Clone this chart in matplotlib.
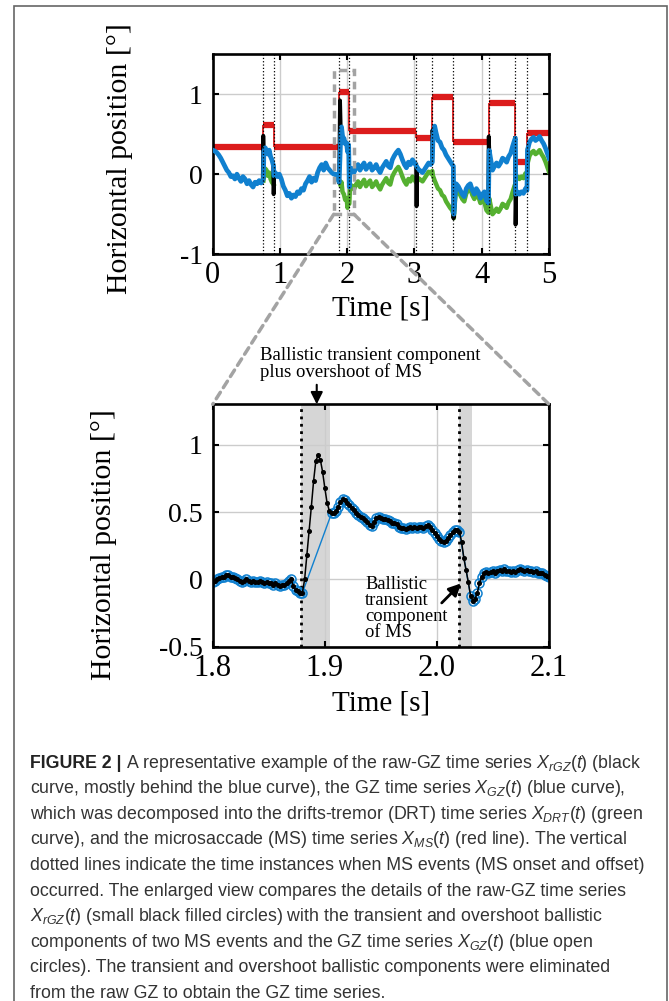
import numpy as np
import matplotlib.pyplot as plt
from matplotlib.patches import Rectangle, ConnectionPatch

nan = np.nan

# ---- overview, 0-5 s ----
gz_t = [0.00, 0.03, 0.06, 0.09, 0.12, 0.15, 0.18, 0.21, 0.24, 0.27, 0.30, 0.33, 0.36, 0.39,
        0.42, 0.45, 0.48, 0.51, 0.54, 0.57, 0.60, 0.63, 0.66, 0.69, 0.72, 0.745, 0.755,
        0.760, 0.78, 0.80, 0.82, 0.84, 0.86, 0.88, 0.90, 0.905, 0.910, 0.93, 0.96, 0.99,
        1.02, 1.05, 1.08, 1.11, 1.14, 1.17, 1.20, 1.23, 1.26, 1.29, 1.32, 1.35, 1.38, 1.41,
        1.44, 1.47, 1.50, 1.53, 1.56, 1.59, 1.62, 1.65, 1.68, 1.71, 1.74, 1.77, 1.80, 1.83,
        1.86, 1.879, 1.905, 1.915, 1.93, 1.94, 1.95, 1.97, 1.99, 2.005, 2.018, 2.022, 2.031,
        2.04, 2.06, 2.08, 2.10, 2.13, 2.16, 2.19, 2.22, 2.25, 2.28, 2.31, 2.34, 2.37, 2.40,
        2.43, 2.46, 2.49, 2.52, 2.55, 2.58, 2.61, 2.64, 2.67, 2.70, 2.73, 2.76, 2.79, 2.82,
        2.85, 2.88, 2.91, 2.94, 2.97, 3.00, 3.03, 3.06, 3.09, 3.12, 3.15, 3.18, 3.21, 3.24,
        3.265, 3.275, 3.30, 3.32, 3.35, 3.38, 3.41, 3.44, 3.47, 3.50, 3.53, 3.56, 3.578,
        3.585, 3.60, 3.62, 3.65, 3.68, 3.71, 3.74, 3.77, 3.80, 3.83, 3.86, 3.89, 3.92, 3.95,
        3.98, 4.01, 4.04, 4.07, 4.10, 4.11, 4.13, 4.16, 4.19, 4.22, 4.25, 4.28, 4.31, 4.34,
        4.37, 4.40, 4.43, 4.46, 4.49, 4.50, 4.505, 4.53, 4.56, 4.59, 4.62, 4.65, 4.673,
        4.68, 4.71, 4.74, 4.77, 4.80, 4.83, 4.86, 4.89, 4.92, 4.95, 4.98, 5.00]
gz_x = [0.30, 0.29, 0.27, 0.24, 0.20, 0.15, 0.10, 0.05, 0.02, -0.03, -0.02, -0.06, 0.00, -0.05,
        -0.09, -0.03, -0.06, -0.12, -0.08, -0.13, -0.16, -0.10, -0.12, -0.08, -0.11, -0.07, -0.05,
        0.28, 0.33, 0.30, 0.25, 0.30, 0.22, 0.18, 0.12, 0.10, -0.02, 0.02, -0.03, 0.00,
        -0.06, -0.15, -0.20, -0.27, -0.24, -0.30, -0.26, -0.28, -0.22, -0.24, -0.18, -0.20, -0.12, -0.08,
        -0.03, -0.10, -0.05, -0.08, 0.02, 0.08, 0.12, 0.05, 0.14, 0.08, 0.05, 0.02, 0.00, 0.00,
        -0.03, -0.10, 0.50, 0.59, 0.47, 0.40, 0.45, 0.38, 0.39, 0.28, 0.37, 0.34, -0.16,
        0.02, 0.07, 0.07, 0.02, 0.08, 0.12, 0.05, 0.10, 0.14, 0.06, 0.10, 0.13, 0.05, 0.08,
        0.12, 0.06, 0.02, 0.08, 0.12, 0.16, 0.10, 0.08, 0.18, 0.23, 0.27, 0.30, 0.25, 0.18,
        0.12, 0.08, 0.15, 0.12, 0.18, 0.14, 0.10, 0.06, 0.04, 0.02, 0.06, 0.10, 0.14, 0.12,
        0.15, 0.45, 0.60, 0.52, 0.42, 0.40, 0.33, 0.30, 0.24, 0.20, 0.16, 0.12, 0.10,
        -0.50, -0.30, -0.12, -0.15, -0.20, -0.25, -0.28, -0.18, -0.14, -0.12, -0.20, -0.25, -0.18, -0.22,
        -0.30, -0.25, -0.22, -0.33, -0.36, 0.30, 0.20, 0.05, 0.10, 0.14, 0.10, 0.14, 0.20, 0.18,
        0.15, 0.22, 0.26, 0.35, 0.43, 0.45, -0.25, -0.22, -0.25, -0.22, -0.24, -0.18, -0.20,
        0.30, 0.40, 0.44, 0.46, 0.42, 0.44, 0.47, 0.42, 0.38, 0.32, 0.25, 0.20]

# drift-tremor only drawn where it departs from the GZ curve
drt_t = [0.755, 0.77, 0.78, 0.80, 0.82, 0.84, 0.86, 0.88, 0.905, nan,
         1.86, 1.879, 1.89, 1.905, 1.915, 1.93, 1.95, 1.97, 1.99, 2.005, 2.018, 2.022, 2.031,
         2.04, 2.06, 2.08, 2.10, 2.13, 2.16, 2.19, 2.22, 2.25, 2.28, 2.31, 2.34, 2.37, 2.40,
         2.43, 2.46, 2.49, 2.52, 2.55, 2.58, 2.61, 2.64, 2.67, 2.70, 2.73, 2.76, 2.79, 2.82,
         2.85, 2.88, 2.91, 2.94, 2.97, 3.00, 3.03, 3.06, 3.09, 3.12, 3.15, 3.18, 3.21, 3.24,
         3.265, 3.275, 3.30, 3.32, 3.35, 3.38, 3.41, 3.44, 3.47, 3.50, 3.53, 3.56, 3.578,
         3.585, 3.60, 3.62, 3.65, 3.68, 3.71, 3.74, 3.77, 3.80, 3.83, 3.86, 3.89, 3.92, 3.95,
         3.98, 4.01, 4.04, 4.07, 4.10, 4.11, 4.13, 4.16, 4.19, 4.22, 4.25, 4.28, 4.31, 4.34,
         4.37, 4.40, 4.43, 4.46, 4.49, 4.50, 4.505, 4.53, 4.56, 4.59, 4.62, 4.65, 4.673,
         4.68, 4.71, 4.74, 4.77, 4.80, 4.83, 4.86, 4.89, 4.92, 4.95, 4.98, 5.00]
drt_x = [-0.08, 0.02, 0.07, 0.05, -0.02, 0.02, -0.06, -0.10, -0.13, nan,
         -0.03, -0.10, -0.08, -0.15, -0.10, -0.22, -0.25, -0.32, -0.30, -0.42, -0.33, -0.36, -0.37,
         -0.19, -0.14, -0.15, -0.19, -0.13, -0.09, -0.16, -0.11, -0.07, -0.15, -0.11, -0.08, -0.16, -0.13,
         -0.09, -0.15, -0.19, -0.13, -0.09, -0.05, -0.11, -0.13, -0.03, 0.02, 0.06, 0.09, 0.04, -0.03,
         -0.09, -0.13, -0.06, -0.09, -0.03, -0.07, -0.11, -0.05, -0.07, -0.09, -0.05, -0.01, 0.03, 0.01,
         0.04, -0.02, -0.08, -0.12, -0.18, -0.20, -0.26, -0.28, -0.34, -0.38, -0.42, -0.45, -0.50,
         -0.55, -0.36, -0.18, -0.21, -0.26, -0.31, -0.34, -0.24, -0.20, -0.18, -0.26, -0.31, -0.24, -0.28,
         -0.36, -0.31, -0.35, -0.45, -0.48, -0.30, -0.38, -0.50, -0.47, -0.43, -0.47, -0.43, -0.37, -0.39,
         -0.42, -0.35, -0.31, -0.22, -0.14, -0.12, -0.06, -0.03, -0.06, -0.03, -0.05, 0.01, -0.01,
         0.13, 0.23, 0.27, 0.29, 0.25, 0.27, 0.30, 0.25, 0.21, 0.15, 0.08, 0.03]

# raw GZ, only the ballistic spikes (rest lies under the GZ curve)
raw_t = [0.745, 0.752, 0.756, 0.762, nan, 0.900, 0.906, 0.913, nan,
         1.879, 1.886, 1.893, 1.900, 1.905, nan, 3.025, 3.031, 3.038, nan,
         3.262, 3.268, 3.276, nan, 3.574, 3.580, 3.590, 3.600, nan,
         4.098, 4.104, 4.112, nan, 4.496, 4.503, 4.512, nan, 4.668, 4.676, 4.684]
raw_x = [-0.07, 0.48, 0.35, 0.28, nan, 0.10, -0.25, -0.02, nan,
         -0.10, 0.36, 0.92, 0.68, 0.50, nan, 0.12, -0.40, 0.06, nan,
         0.15, 0.55, 0.45, nan, 0.10, -0.55, -0.45, -0.30, nan,
         -0.36, 0.47, 0.30, nan, 0.45, -0.63, -0.25, nan, -0.20, -0.05, 0.30]

# microsaccade step series
ms_edges = [0.0, 0.755, 0.905, 1.879, 2.020, 3.03, 3.265, 3.578, 4.103, 4.50, 4.673, 5.0]
ms_levels = [0.34, 0.61, 0.34, 1.025, 0.545, 0.45, 0.96, 0.40, 0.89, 0.15, 0.51]

# ---- enlarged view, 1.8-2.1 s sampled at 500 Hz ----
zoom_t0 = 1.8
zoom_dt = 0.002
raw_zoom = [-0.02, -0.01, 0.00, 0.01, 0.02, 0.02, 0.03, 0.03, 0.02, 0.02,
            0.01, 0.00, -0.01, -0.02, -0.01, 0.00, -0.01, -0.02, -0.01, -0.02,
            -0.02, -0.01, -0.02, -0.03, -0.02, -0.03, -0.03, -0.04, -0.03, -0.04,
            -0.05, -0.04, -0.04, -0.03, -0.01, 0.00, -0.05, -0.08, -0.09, -0.10,
            -0.10, 0.00, 0.18, 0.36, 0.54, 0.73, 0.88, 0.92, 0.89, 0.80,
            0.68, 0.57, 0.51, 0.49, 0.49, 0.51, 0.54, 0.575, 0.595, 0.59,
            0.57, 0.555, 0.53, 0.515, 0.495, 0.475, 0.465, 0.455, 0.44, 0.425,
            0.405, 0.395, 0.425, 0.455, 0.465, 0.455, 0.45, 0.45, 0.44, 0.43,
            0.42, 0.415, 0.41, 0.39, 0.38, 0.38, 0.375, 0.385, 0.39, 0.385,
            0.39, 0.385, 0.39, 0.39, 0.385, 0.395, 0.405, 0.39, 0.365, 0.345,
            0.32, 0.30, 0.285, 0.275, 0.285, 0.31, 0.33, 0.35, 0.365, 0.37,
            0.355, 0.28, 0.16, 0.07, -0.02, -0.12, -0.16, -0.145, -0.10, -0.03,
            0.02, 0.045, 0.055, 0.05, 0.055, 0.06, 0.05, 0.06, 0.07, 0.065,
            0.075, 0.06, 0.065, 0.055, 0.06, 0.055, 0.07, 0.08, 0.07, 0.06,
            0.07, 0.065, 0.06, 0.055, 0.06, 0.05, 0.05, 0.045, 0.035, 0.025,
            0.015]
transients = [(1.881, 1.905), (2.021, 2.029)]
shaded = [(1.879, 1.905), (2.020, 2.031)]
zoom_xlim = (1.8, 2.1)
zoom_ylim = (-0.5, 1.3)

caption = [
    "A representative example of the raw-GZ time series $X_{rGZ}(t)$ (black",
    "curve, mostly behind the blue curve), the GZ time series $X_{GZ}(t)$ (blue curve),",
    "which was decomposed into the drifts-tremor (DRT) time series $X_{DRT}(t)$ (green",
    "curve), and the microsaccade (MS) time series $X_{MS}(t)$ (red line). The vertical",
    "dotted lines indicate the time instances when MS events (MS onset and offset)",
    "occurred. The enlarged view compares the details of the raw-GZ time series",
    "$X_{rGZ}(t)$ (small black filled circles) with the transient and overshoot ballistic",
    "components of two MS events and the GZ time series $X_{GZ}(t)$ (blue open",
    "circles). The transient and overshoot ballistic components were eliminated",
    "from the raw GZ to obtain the GZ time series.",
]

plt.rcParams['font.family'] = ['Liberation Serif', 'DejaVu Serif']
plt.rcParams['axes.unicode_minus'] = False
plt.rcParams['mathtext.fontset'] = 'custom'
plt.rcParams['mathtext.rm'] = 'Liberation Sans'
plt.rcParams['mathtext.it'] = 'Liberation Sans:italic'

BLUE = '#1080cf'
GREEN = '#55b030'
RED = '#dc1c1c'
GRAYBOX = '#a3a3a3'

W, H = 669, 1001
fig = plt.figure(figsize=(W / 100, H / 100), dpi=100)


def box(l, t, r, b):
    return [l / W, 1 - b / H, (r - l) / W, (b - t) / H]


ax1 = fig.add_axes(box(212.7, 54, 549, 254.3))
ax2 = fig.add_axes(box(212.7, 404.3, 549, 646.7))

for ax in (ax1, ax2):
    ax.set_axisbelow(True)
    ax.grid(True, color='#cccccc', lw=1)
    for s in ax.spines.values():
        s.set_linewidth(1.9)
    ax.tick_params(direction='in', top=True, right=True, length=4, width=1.5)
    ax.tick_params(axis='x', labelsize=22, pad=5)
    ax.tick_params(axis='y', labelsize=20, pad=7)

# overview
ax1.hlines(ms_levels, ms_edges[:-1], ms_edges[1:], color=RED, lw=4.5, zorder=1)
ax1.vlines(ms_edges[1:-1], ms_levels[:-1], ms_levels[1:], color=RED, lw=1.3, zorder=1)
ax1.plot(drt_t, drt_x, color=GREEN, lw=3.2, zorder=2)
ax1.plot(raw_t, raw_x, color='black', lw=2.8, zorder=3)
ax1.plot(gz_t, gz_x, color=BLUE, lw=3.4, zorder=4)
for e in ms_edges[1:-1]:
    ax1.axvline(e, color='black', ls=':', lw=0.9, zorder=5)
ax1.add_patch(Rectangle((zoom_xlim[0], zoom_ylim[0]), zoom_xlim[1] - zoom_xlim[0],
                        zoom_ylim[1] - zoom_ylim[0], fill=False, ec=GRAYBOX, lw=2.5,
                        ls=(0, (2.2, 1.6)), zorder=6))
ax1.set_xlim(0, 5)
ax1.set_ylim(-1, 1.5)
ax1.set_xticks([0, 1, 2, 3, 4, 5])
ax1.set_yticks([-1, 0, 1])
ax1.set_xlabel('Time [s]', fontsize=21)
ax1.set_ylabel('Horizontal position [°]', fontsize=21.5)
ax1.xaxis.set_label_coords(0.5, -0.205)
ax1.yaxis.set_label_coords(-0.237, 0.48)

# enlarged view
zt = np.round(zoom_t0 + zoom_dt * np.arange(len(raw_zoom)), 3)
zr = np.array(raw_zoom)
keep = np.ones(len(zt), bool)
for a, b in transients:
    keep &= ~((zt >= a) & (zt <= b))
for a, b in shaded:
    ax2.axvspan(a, b, color='#d6d6d6', lw=0, zorder=0.5)
    ax2.axvline(a, color='black', ls=':', lw=2, zorder=1)
ax2.plot(zt[keep], zr[keep], color=BLUE, lw=1, marker='o', ms=6.5, mfc='none',
         mec=BLUE, mew=1.1, zorder=2)
ax2.plot(zt, zr, color='black', lw=1.1, marker='o', ms=2.6, zorder=3)
ax2.set_xlim(*zoom_xlim)
ax2.set_ylim(*zoom_ylim)
ax2.set_xticks([1.8, 1.9, 2.0, 2.1])
ax2.set_xticklabels(['1.8', '1.9', '2.0', '2.1'])
ax2.set_yticks([-0.5, 0, 0.5, 1])
ax2.set_yticklabels(['-0.5', '0', '0.5', '1'])
ax2.set_xlabel('Time [s]', fontsize=21)
ax2.set_ylabel('Horizontal position [°]', fontsize=21.5)
ax2.xaxis.set_label_coords(0.5, -0.18)
ax2.yaxis.set_label_coords(-0.2855, 0.42)

ax2.text(1.842, 1.60, 'Ballistic transient component\nplus overshoot of MS', fontsize=13.5,
         ha='left', va='center', linespacing=0.95, clip_on=False)
ax2.annotate('', xy=(1.8928, 1.3), xytext=(1.8928, 1.445), annotation_clip=False,
             arrowprops=dict(arrowstyle='-|>', color='black', lw=1.5, mutation_scale=18,
                             shrinkA=0, shrinkB=0))
ax2.text(1.936, -0.215, 'Ballistic\ntransient\ncomponent\nof MS', fontsize=13.3,
         ha='left', va='center', linespacing=0.93)
ax2.annotate('', xy=(2.0215, -0.03), xytext=(2.0043, -0.175),
             arrowprops=dict(arrowstyle='-|>', color='black', lw=2, mutation_scale=18,
                             shrinkA=0, shrinkB=0))

# dashed zoom connectors
for xc in zoom_xlim:
    con = ConnectionPatch(xyA=(xc, zoom_ylim[0]), coordsA=ax1.transData,
                          xyB=(xc, zoom_ylim[1]), coordsB=ax2.transData,
                          color=GRAYBOX, lw=2.5, ls=(0, (2.2, 1.6)))
    fig.add_artist(con)

# frame and caption
fig.add_artist(Rectangle((13.5 / W, -0.02), (667 - 13.5) / W, 1.02 - 6 / H,
                         transform=fig.transFigure, fill=False, ec='#666666', lw=1.2))
cap_font = ['Liberation Sans', 'DejaVu Sans']
cap_size = 12.8
renderer = fig.canvas.get_renderer()
y0 = 763
for i, line in enumerate(caption):
    y = 1 - (y0 + 25.6 * i) / H
    x = 30 / W
    if i == 0:
        head = fig.text(x, y, 'FIGURE 2 |', family=cap_font, weight='bold', fontsize=cap_size,
                        color='#222222', va='center')
        x = head.get_window_extent(renderer).x1 / W + 4 / W
    fig.text(x, y, line, family=cap_font, fontsize=cap_size, color='#333333', va='center')

fig.savefig('out.png', dpi=100)
